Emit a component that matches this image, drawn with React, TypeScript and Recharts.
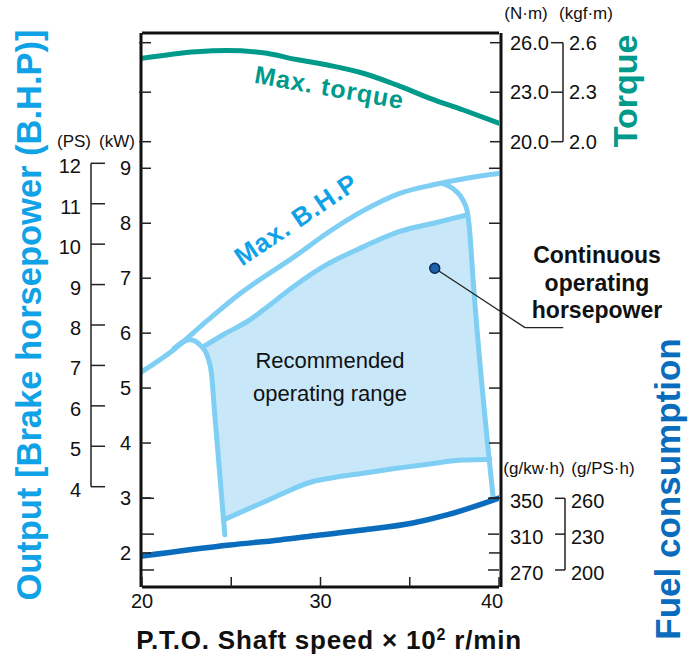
import React from 'react';
import { ComposedChart, Line, Area, XAxis, YAxis, ReferenceDot, ReferenceLine } from 'recharts';

// P.T.O. shaft speed (x 10^2 r/min)
const speedTicks = [20, 25, 30, 35, 40];
const speedLabels = ['20', '', '30', '', '40'];

// output scales
const kwTicks = [2, 3, 4, 5, 6, 7, 8, 9];
const psTicks = [4, 5, 6, 7, 8, 9, 10, 11, 12];

// torque scales
const torqueTicks = [20, 23, 26];
const kgfLabels = ['2.0', '2.3', '2.6'];

// fuel consumption scales
const fuelTicks = [270, 310, 350];
const fuelPsLabels = ['200', '230', '260'];

// max torque (N·m)
const torqueSpeed = [20, 23.05, 24.73, 26.78, 28.66, 30.52, 32.39, 34.26, 36.13, 38, 40];
const torqueNm = [25.05, 25.45, 25.52, 25.39, 24.98, 24.62, 24.15, 23.44, 22.63, 21.92, 21.12];

// max B.H.P (kW)
const bhpSpeed = [20, 21.74, 23.7, 25.5, 28.66, 30.5, 32.4, 34.44, 36.32, 38.19, 40];
const bhpKw = [5.3, 5.69, 6.24, 6.72, 7.42, 7.85, 8.23, 8.545, 8.7, 8.82, 8.905];

// fuel consumption (g/kW·h)
const fuelSpeed = [20, 24.92, 27.72, 29.96, 32.37, 35.17, 37.08, 40];
const fuelGkwh = [285.6, 297.9, 303.5, 309.0, 314.6, 322.4, 331.4, 350.3];

// recommended operating range outline (kW)
const rangeTopSpeed = [23.42, 24.6, 26.04, 26.79, 28.5, 30.15, 32.39, 34.44, 36.32, 38.2];
const rangeTopKw = [5.75, 5.98, 6.24, 6.42, 6.85, 7.21, 7.57, 7.85, 8.0, 8.15];
const rangeBottomSpeed = [24.56, 27, 29.59, 30.53, 32.4, 34.26, 36.1, 38.0, 39.48];
const rangeBottomKw = [2.6, 2.95, 3.3, 3.36, 3.45, 3.54, 3.62, 3.69, 3.7];
const rangeLeftSpeed = [21.8, 22.67, 23.33, 23.7, 23.89, 24.07, 24.64];
const rangeLeftKw = [5.72, 5.88, 5.76, 5.55, 5.27, 4.55, 2.33];
const rangeRightSpeed = [36.86, 37.53, 37.98, 38.23, 38.35, 38.56, 39.68];
const rangeRightKw = [8.72, 8.6, 8.42, 8.2, 7.88, 6.92, 2.99];

// recommended operating range fill (kW, low/high)
const fillSpeed = [23.55, 23.9, 24.56, 27, 29.59, 30.53, 32.4, 34.26, 36.1, 38.0, 38.2, 39.48];
const fillLow = [5.7, 5.24, 2.6, 2.95, 3.3, 3.36, 3.45, 3.54, 3.62, 3.69, 3.69, 3.7];
const fillHigh = [5.7, 5.84, 5.99, 6.47, 7.08, 7.26, 7.57, 7.83, 7.98, 8.14, 8.15, 3.7];

// continuous operating horsepower marker + leader
const markerSpeed = 36.4;
const markerKw = 7.18;
const leaderSpeed = [36.4, 41.46, 43.6];
const leaderKw = [7.18, 6.1, 6.1];

const pts = (xs: number[], ys: number[]) => xs.map((x, i) => ({ x, y: ys[i] }));

const torqueData = pts(torqueSpeed, torqueNm);
const bhpData = pts(bhpSpeed, bhpKw);
const fuelData = pts(fuelSpeed, fuelGkwh);
const topData = pts(rangeTopSpeed, rangeTopKw);
const bottomData = pts(rangeBottomSpeed, rangeBottomKw);
const leftData = pts(rangeLeftSpeed, rangeLeftKw);
const rightData = pts(rangeRightSpeed, rangeRightKw);
const fillData = fillSpeed.map((x, i) => ({ x, r: [fillLow[i], fillHigh[i]] }));

const FONT = '"Liberation Sans", Arial, Helvetica, sans-serif';
const TOP = 33;
const BOTTOM = 587;

const KW_DOMAIN: [number, number] = [1.38, 11.462];
const PS_DOMAIN: [number, number] = [1.519, 15.223];
const TQ_DOMAIN: [number, number] = [-6.988, 26.588];
const FU_DOMAIN: [number, number] = [251.0, 869.3];

const yPix = (v: number, d: [number, number]) => TOP + ((d[1] - v) / (d[1] - d[0])) * (BOTTOM - TOP);

const TEAL = '#009a8b';
const SKY = '#7fcff4';
const FILL = '#c8e8f9';
const BLUE = '#0a6cbc';
const TITLE_BLUE = '#10a2e6';

const tickStroke = { stroke: '#222', strokeWidth: 1.5 };

const SpeedTick = (p: any) => {
  const { x, y, payload } = p;
  const i = speedTicks.indexOf(payload.value);
  // last label is pulled in a little, as in the original print
  const lx = i === speedTicks.length - 1 ? x - 7 : x;
  return (
    <g>
      <line x1={x} x2={x} y1={y} y2={y - 10} {...tickStroke} />
      <text x={lx} y={y + 21} textAnchor="middle" fontSize={20} fontFamily={FONT} fill="#111">{speedLabels[i]}</text>
    </g>
  );
};

const KwTick = (p: any) => {
  const { x, y, payload } = p;
  return (
    <g>
      <line x1={x} x2={x + 10} y1={y} y2={y} {...tickStroke} />
      <text x={x - 10} y={y + 7} textAnchor="end" fontSize={20} fontFamily={FONT} fill="#111">{payload.value}</text>
    </g>
  );
};

const InTickLeft = (p: any) => (
  <line x1={p.x} x2={p.x + 12} y1={p.y} y2={p.y} {...tickStroke} />
);

const InTickRight = (p: any) => (
  <line x1={p.x} x2={p.x - 11} y1={p.y} y2={p.y} {...tickStroke} />
);

const PsTick = (p: any) => {
  const { x, y, payload, index } = p;
  return (
    <g>
      {index === 0 && (
        <line x1={x - 49} x2={x - 49} y1={yPix(psTicks[0], PS_DOMAIN)} y2={yPix(psTicks[psTicks.length - 1], PS_DOMAIN)} {...tickStroke} />
      )}
      <line x1={x - 49} x2={x - 35} y1={y} y2={y} {...tickStroke} />
      <text x={x - 59} y={y + 10} textAnchor="end" fontSize={20} fontFamily={FONT} fill="#111">{payload.value}</text>
    </g>
  );
};

const TorqueTick = (p: any) => {
  const { x, y, payload, index } = p;
  const i = torqueTicks.indexOf(payload.value);
  return (
    <g>
      <line x1={x} x2={x - 11} y1={y} y2={y} {...tickStroke} />
      {index === 0 && (
        <line x1={x + 62} x2={x + 62} y1={yPix(torqueTicks[0], TQ_DOMAIN)} y2={yPix(torqueTicks[torqueTicks.length - 1], TQ_DOMAIN)} {...tickStroke} />
      )}
      <line x1={x + 50} x2={x + 62} y1={y} y2={y} {...tickStroke} />
      <text x={x + 9} y={y + 7} textAnchor="start" fontSize={20} fontFamily={FONT} fill="#111">{payload.value.toFixed(1)}</text>
      <text x={x + 68} y={y + 7} textAnchor="start" fontSize={20} fontFamily={FONT} fill="#111">{kgfLabels[i]}</text>
    </g>
  );
};

const FuelTick = (p: any) => {
  const { x, y, payload, index } = p;
  const i = fuelTicks.indexOf(payload.value);
  return (
    <g>
      <line x1={x} x2={x - 11} y1={y} y2={y} {...tickStroke} />
      {index === 0 && (
        <line x1={x + 66} x2={x + 66} y1={yPix(fuelTicks[0], FU_DOMAIN)} y2={yPix(fuelTicks[fuelTicks.length - 1], FU_DOMAIN)} {...tickStroke} />
      )}
      <line x1={x + 56} x2={x + 66} y1={y} y2={y} {...tickStroke} />
      <text x={x + 11} y={y + 10} textAnchor="start" fontSize={20} fontFamily={FONT} fill="#111">{payload.value}</text>
      <text x={x + 72} y={y + 10} textAnchor="start" fontSize={20} fontFamily={FONT} fill="#111">{fuelPsLabels[i]}</text>
    </g>
  );
};

const border = { stroke: '#111', strokeWidth: 3 };

export default function App() {
  const lineCommon = { xAxisId: 'x', dataKey: 'y', dot: false, activeDot: false, isAnimationActive: false, strokeLinecap: 'round' as const };
  return (
    <div style={{ position: 'absolute', left: 0, top: 0, width: 700, height: 665, background: '#fff' }}>
      <ComposedChart width={700} height={665} margin={{ top: 32, right: 198, bottom: 77, left: 138 }}>
        <XAxis xAxisId="x" type="number" dataKey="x" domain={[20, 40]} ticks={speedTicks} interval={0}
          allowDataOverflow height={1} axisLine={border} tickLine={false} tickSize={0} tickMargin={0} tick={SpeedTick} />
        <XAxis xAxisId="top" orientation="top" type="number" dataKey="x" domain={[20, 40]}
          allowDataOverflow height={1} axisLine={border} tickLine={false} tick={false} />

        <YAxis yAxisId="kw" orientation="left" type="number" domain={KW_DOMAIN} ticks={kwTicks} interval={0}
          allowDataOverflow width={1} axisLine={border} tickLine={false} tickSize={0} tickMargin={0} tick={KwTick} />
        <YAxis yAxisId="ps" orientation="left" type="number" domain={PS_DOMAIN} ticks={psTicks} interval={0}
          allowDataOverflow width={1} axisLine={false} tickLine={false} tickSize={0} tickMargin={0} tick={PsTick} />
        <YAxis yAxisId="tqL" orientation="left" type="number" domain={TQ_DOMAIN} ticks={torqueTicks} interval={0}
          allowDataOverflow width={1} axisLine={false} tickLine={false} tickSize={0} tickMargin={0} tick={InTickLeft} />
        <YAxis yAxisId="fuL" orientation="left" type="number" domain={FU_DOMAIN} ticks={fuelTicks} interval={0}
          allowDataOverflow width={1} axisLine={false} tickLine={false} tickSize={0} tickMargin={0} tick={InTickLeft} />

        <YAxis yAxisId="tq" orientation="right" type="number" domain={TQ_DOMAIN} ticks={torqueTicks} interval={0}
          allowDataOverflow width={1} axisLine={border} tickLine={false} tickSize={0} tickMargin={0} tick={TorqueTick} />
        <YAxis yAxisId="fu" orientation="right" type="number" domain={FU_DOMAIN} ticks={fuelTicks} interval={0}
          allowDataOverflow width={1} axisLine={false} tickLine={false} tickSize={0} tickMargin={0} tick={FuelTick} />
        <YAxis yAxisId="kwR" orientation="right" type="number" domain={KW_DOMAIN} ticks={kwTicks} interval={0}
          allowDataOverflow width={1} axisLine={false} tickLine={false} tickSize={0} tickMargin={0} tick={InTickRight} />

        <Area data={fillData} xAxisId="x" yAxisId="kw" dataKey="r" type="linear" stroke="none" fill={FILL}
          fillOpacity={1} isAnimationActive={false} dot={false} activeDot={false} />

        <Line {...lineCommon} data={topData} yAxisId="kw" type="monotone" stroke={SKY} strokeWidth={5} />
        <Line {...lineCommon} data={bottomData} yAxisId="kw" type="monotone" stroke={SKY} strokeWidth={5} />
        <Line {...lineCommon} data={leftData} yAxisId="kw" type="monotone" stroke={SKY} strokeWidth={5} />
        <Line {...lineCommon} data={rightData} yAxisId="kw" type="monotone" stroke={SKY} strokeWidth={5} />
        <Line {...lineCommon} data={bhpData} yAxisId="kw" type="monotone" stroke={SKY} strokeWidth={5} />

        <Line {...lineCommon} data={torqueData} yAxisId="tq" type="monotone" stroke={TEAL} strokeWidth={5} />
        <Line {...lineCommon} data={fuelData} yAxisId="fu" type="monotone" stroke={BLUE} strokeWidth={5.5} />

        <ReferenceLine xAxisId="x" yAxisId="kw" ifOverflow="visible" stroke="#222" strokeWidth={1.3}
          segment={[{ x: leaderSpeed[0], y: leaderKw[0] }, { x: leaderSpeed[1], y: leaderKw[1] }]} />
        <ReferenceLine xAxisId="x" yAxisId="kw" ifOverflow="visible" stroke="#222" strokeWidth={1.3}
          segment={[{ x: leaderSpeed[1], y: leaderKw[1] }, { x: leaderSpeed[2], y: leaderKw[2] }]} />
        <ReferenceDot xAxisId="x" yAxisId="kw" x={markerSpeed} y={markerKw} r={5} fill="#1d5fa8" stroke="#0b2a55" strokeWidth={1.5} />
      </ComposedChart>

      <svg width={700} height={665} style={{ position: 'absolute', left: 0, top: 0, pointerEvents: 'none' }} fontFamily={FONT}>
        <text transform="translate(41,315) rotate(-90)" textAnchor="middle" fontSize={34.5} fontWeight="bold" fill={TITLE_BLUE}>
          Output [Brake horsepower (B.H.P)]
        </text>
        <text transform="translate(637,91) rotate(-90)" textAnchor="middle" fontSize={34} fontWeight="bold" fill={TEAL}>
          Torque
        </text>
        <text transform="translate(680,489) rotate(-90)" textAnchor="middle" fontSize={35} fontWeight="bold" fill={BLUE}>
          Fuel consumption
        </text>

        <text x={74} y={147} textAnchor="middle" fontSize={17} fill="#111">(PS)</text>
        <text x={117} y={147} textAnchor="middle" fontSize={17} fill="#111">(kW)</text>
        <text x={526} y={19} textAnchor="middle" fontSize={17} fill="#111">(N·m)</text>
        <text x={586} y={19} textAnchor="middle" fontSize={17} fill="#111">(kgf·m)</text>
        <text x={534} y={474} textAnchor="middle" fontSize={17} fill="#111">(g/kw·h)</text>
        <text x={603} y={474} textAnchor="middle" fontSize={17} fill="#111">(g/PS·h)</text>

        <text x={329} y={649} textAnchor="middle" fontSize={26} fontWeight="bold" letterSpacing={0.8} fill="#111">
          P.T.O. Shaft speed × 10<tspan dy={-9} fontSize={16}>2</tspan><tspan dy={9}> r/min</tspan>
        </text>

        <text x={330} y={368} textAnchor="middle" fontSize={22} fill="#111">Recommended</text>
        <text x={330} y={401} textAnchor="middle" fontSize={22} fill="#111">operating range</text>

        <text x={597} y={263} textAnchor="middle" fontSize={23} fontWeight="bold" fill="#111">Continuous</text>
        <text x={597} y={291} textAnchor="middle" fontSize={23} fontWeight="bold" fill="#111">operating</text>
        <text x={597} y={318} textAnchor="middle" fontSize={23} fontWeight="bold" fill="#111">horsepower</text>

        <text transform="translate(328,96) rotate(10)" textAnchor="middle" fontSize={25} fontWeight="bold" letterSpacing={1} fill={TEAL}>
          Max. torque
        </text>
        <text transform="translate(301,227) rotate(-34)" textAnchor="middle" fontSize={26} fontWeight="bold" letterSpacing={0.8} fill={TITLE_BLUE}>
          Max. B.H.P
        </text>
      </svg>
    </div>
  );
}
